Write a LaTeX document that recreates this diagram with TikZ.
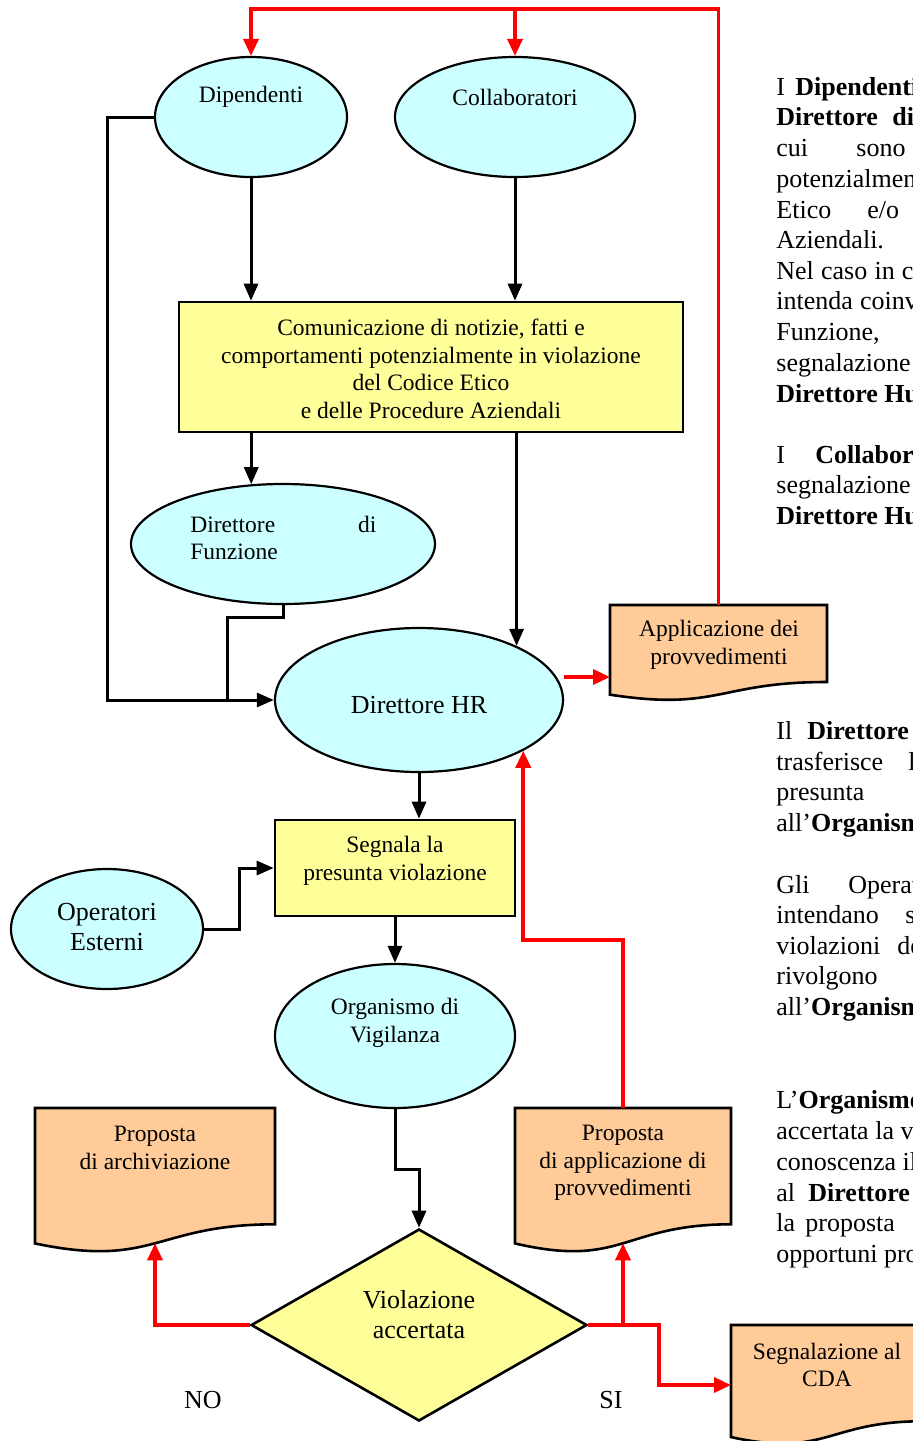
\documentclass[tikz,border=0pt]{standalone}
\usepackage{fontspec}
\setmainfont{Liberation Serif}
\usetikzlibrary{shapes.geometric,arrows.meta,calc}
\definecolor{cyanfill}{HTML}{CCFFFF}
\definecolor{yel}{HTML}{FFFF99}
\definecolor{org}{HTML}{FFCC99}
\definecolor{rd}{HTML}{FF0000}
\newcommand\fsA{\fontsize{11.75}{13.8}\selectfont}
\newcommand\fsB{\fontsize{13}{15}\selectfont}
\newcommand\fsP{\fontsize{13}{15}\selectfont}
\newcommand\docshape[5]{%
  \node[minimum width=#4*0.5pt, minimum height=#5*0.5pt, inner sep=0pt, outer sep=0pt, anchor=north west] (#1) at (#2,#3) {};
  \filldraw[docst] (#1.north west) -- (#1.north east) -- ($(#1.north east)!0.802!(#1.south east)$) .. controls ($(#1.north)!0.802!(#1.south)$) and ($(#1.north)!1.1075!(#1.south)$) .. ($(#1.north west)!0.934!(#1.south west)$) -- cycle;
  \coordinate (#1b) at ($(#1.north)!0.933!(#1.south)$);
}
\begin{document}
\begin{tikzpicture}[x=0.5pt,y=-0.5pt,
  ell/.style={ellipse, draw=black, line width=1.1pt, fill=cyanfill, inner sep=0pt},
  rbox/.style={rectangle, draw=black, line width=1.3pt, fill=yel, inner sep=0pt},
  docst/.style={draw=black, line width=1.3pt, fill=org},
  txt/.style={inner sep=0pt, align=center, font=\fsA},
  conn/.style={draw=black, line width=1.5pt},
  arr/.style={conn, -{Triangle[length=8.5pt,width=7pt]}},
  rconn/.style={draw=rd, line width=1.8pt},
  rarr/.style={rconn, -{Triangle[length=8.5pt,width=7.5pt]}},
  para/.style={anchor=base west, inner sep=0pt, font=\fsP}]
\useasboundingbox (0,0) rectangle (913,1441);
\clip (0,0) rectangle (913,1441);

% shapes
\node[ell, minimum width=96pt, minimum height=60pt] (dip) at (251,117) {};
\node[txt] (dipt) at (251,97) {Dipendenti};
\node[ell, minimum width=120pt, minimum height=60pt] (coll) at (515,117) {};
\node[txt] (collt) at (515,97) {Collaboratori};
\node[rbox, minimum width=252pt, minimum height=65pt] (comm) at (431,367) {};
\node[txt] (commt) at (431,369) {Comunicazione di notizie, fatti e\\comportamenti potenzialmente in violazione\\del Codice Etico\\e delle Procedure Aziendali};
\node[ell, minimum width=152pt, minimum height=60pt] (df) at (283,544) {};
\node[txt, align=left, anchor=west] (dft) at (190,538) {\makebox[93pt][s]{Direttore\hfill di}\\Funzione};
\node[ell, minimum width=144pt, minimum height=72pt] (hr) at (419,700) {};
\node[txt, font=\fsB] (hrt) at (419,705) {Direttore HR};
\docshape{app}{610}{605}{217}{96}
\node[txt] (appt) at (719,645) {Applicazione dei\\provvedimenti};
\node[rbox, minimum width=120pt, minimum height=48pt] (seg) at (395,868) {};
\node[txt] (segt) at (395,861) {Segnala la\\presunta violazione};
\node[ell, minimum width=96pt, minimum height=60pt] (op) at (107,929) {};
\node[txt, font=\fsB] (opt) at (107,927) {Operatori\\Esterni};
\node[ell, minimum width=120pt, minimum height=72pt] (ov) at (395,1036) {};
\node[txt] (ovt) at (395,1023) {Organismo di\\Vigilanza};
\node[diamond, draw=black, line width=1.3pt, fill=yel, minimum width=168pt, minimum height=96pt, inner sep=0pt] (dia) at (419,1325) {};
\node[txt, font=\fsB] (diat) at (419,1315) {Violazione\\accertata};
\docshape{arch}{35}{1108}{240}{145}
\node[txt] (archt) at (155,1148) {Proposta\\di archiviazione};
\docshape{pa}{515}{1108}{216}{145}
\node[txt] (pat) at (623,1163) {Proposta\\di applicazione di\\provvedimenti};
\docshape{cda}{731}{1325}{192}{120}
\node[txt] (cdat) at (827,1365) {Segnalazione al\\CDA};
\node[txt, font=\fsP] (no) at (203,1400) {NO};
\node[txt, font=\fsP] (si) at (611,1400) {SI};

% connectors
\coordinate (top) at (0,9);
\draw[rarr] (app.north) -- (app.north |- top) -- (dip.north |- top) -- (dip.north);
\draw[rarr] (coll.north |- top) -- (coll.north);
\draw[arr] (dip.south) -- (dip.south |- comm.north);
\draw[arr] (coll.south) -- (coll.south |- comm.north);
\draw[arr] (df.118.6 |- comm.south) -- (df.118.6);
\draw[arr] (hr.29.4 |- comm.south) -- (hr.29.4);
\coordinate (lx) at (107,0);
\draw[arr] (dip.west) -- (dip.west -| lx) -- (hr.west -| lx) -- (hr.west);
\coordinate (dfm) at (227,617);
\draw[conn] (df.south) -- (df.south |- dfm) -- (dfm) -- (dfm |- hr.west);
\coordinate (apin) at (610,677);
\draw[rarr] (hr.east |- apin) -- (apin);
\draw[arr] (hr.south) -- (hr.south |- seg.north);
\coordinate (opm) at (239,0);
\draw[arr] (op.east) -- (op.east -| opm) -- (seg.west -| opm) -- (seg.west);
\draw[arr] (seg.south) -- (ov.north);
\coordinate (ovm) at (0,1169);
\draw[arr] (ov.south) -- (ov.south |- ovm) -- (dia.north |- ovm) -- (dia.north);
\draw[rarr] (dia.west) -| (archb);
\draw[rarr] (dia.east) -| (pab);
\coordinate (cdm) at (659,0);
\draw[rarr] (dia.east) -- (dia.east -| cdm) |- (cda.west);
\coordinate (rj) at (0,940);
\draw[rarr] (pa.north) -- (pa.north |- rj) -- (hr.-26.5 |- rj) -- (hr.-26.5);

% paragraph text (cut at the right edge, as in the reference)
\node[para] (p1) at (776,95) {\makebox[9.5pt][l]{I}\textbf{Dipendenti}};
\node[para] (p2) at (776,125) {\makebox[58pt][l]{\textbf{Direttore}}\textbf{di}};
\node[para] (p3) at (776,156) {\makebox[40pt][l]{cui}sono};
\node[para] (p4) at (776,187) {potenzialmente};
\node[para] (p5) at (776,218) {\makebox[45.5pt][l]{Etico}e/o};
\node[para] (p6) at (776,248) {Aziendali.};
\node[para] (p7) at (776,279) {Nel\hspace{3.6pt}caso\hspace{3.6pt}in\hspace{3.6pt}cui};
\node[para] (p8) at (776,309) {intenda\hspace{3.6pt}coinvolgere};
\node[para] (p9) at (776,340) {Funzione,};
\node[para] (p10) at (776,371) {segnalazione};
\node[para] (p11) at (776,402) {\textbf{Direttore Human}};
\node[para] (p12) at (776,463) {\makebox[19.5pt][l]{I}\textbf{Collaboratori}};
\node[para] (p13) at (776,493) {segnalazione};
\node[para] (p14) at (776,524) {\textbf{Direttore Human}};
\node[para] (p15) at (776,739) {\makebox[15.5pt][l]{Il}\textbf{Direttore}};
\node[para] (p16) at (776,770) {\makebox[66pt][l]{trasferisce}la};
\node[para] (p17) at (776,800) {presunta};
\node[para] (p18) at (776,831) {all’\textbf{Organismo}};
\node[para] (p19) at (776,893) {\makebox[36pt][l]{Gli}Operatori};
\node[para] (p20) at (776,923) {\makebox[64.5pt][l]{intendano}segnalare};
\node[para] (p21) at (776,954) {\makebox[60.5pt][l]{violazioni}del};
\node[para] (p22) at (776,984) {rivolgono};
\node[para] (p23) at (776,1015) {all’\textbf{Organismo}};
\node[para] (p24) at (776,1108) {L’\textbf{Organismo}};
\node[para] (p25) at (776,1139) {accertata la violazione};
\node[para] (p26) at (776,1170) {conoscenza il};
\node[para] (p27) at (776,1201) {\makebox[16pt][l]{al}\textbf{Direttore}};
\node[para] (p28) at (776,1231) {\makebox[14.5pt][l]{la}proposta};
\node[para] (p29) at (776,1262) {opportuni provvedimenti};
\end{tikzpicture}
\end{document}
